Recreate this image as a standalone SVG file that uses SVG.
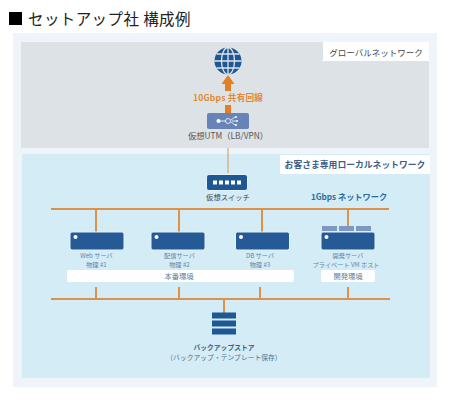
<svg xmlns="http://www.w3.org/2000/svg" width="450" height="400" viewBox="0 0 450 400">
<style>
text{font-family:"Noto Sans CJK JP","Noto Sans",sans-serif}
.m{text-anchor:middle}
.srv{fill:#255a97;stroke:#e4f2f9;stroke-width:1}
.dot{fill:#fff}
.sub{font-size:6.200px;fill:#6485a6}
.env{font-size:7.300px;fill:#5f7f9e}
.lab{font-size:8.300px;fill:#555}
.o{stroke:#dc9248;stroke-width:2;fill:none}
.w{fill:#fff}
.vm{fill:#7d99c2}
.gl{fill:none;stroke:#e0e6ea;stroke-width:1.3}
</style>
<rect width="450" height="400" fill="#fff"/>
<rect x="13" y="33" width="424" height="354" fill="#eff4fa"/>
<rect x="21" y="42" width="408" height="106" fill="#dde2e6"/>
<rect x="22" y="154" width="408" height="224" fill="#d3ecf6"/>
<rect x="9" y="12" width="13" height="13" fill="#000"/>
<text x="28" y="25" font-size="15.500" fill="#222" letter-spacing=".4">セットアップ社 構成例</text>

<g id="label-global"><rect x="323" y="42" width="106" height="19" class="w"/><text x="376" y="55.500" class="m" font-size="8.500" fill="#444">グローバルネットワーク</text></g>
<g id="label-local"><rect x="280" y="155" width="150" height="19" class="w"/><text x="355" y="168" class="m" font-size="8.800" font-weight="700" fill="#3b5f87">お客さま専用ローカルネットワーク</text></g>

<g id="connectors">
<path d="M228 148V173" stroke="#dc9248" stroke-width="1" fill="none"/>
<path d="M228 75L234.500 84H231V91H225V84H221.500Z" fill="#e37f22"/>
<rect x="225" y="105" width="6" height="8" fill="#e37f22"/>
<path class="o" d="M51 209H389"/>
<path class="o" d="M96 209V232M179 209V232M262 209V232M348 209V226"/>
<path class="o" d="M51 299H390"/>
<path class="o" d="M96 287V299M179 287V299M260 287V299M348 287V299M224 299V313"/>
</g>

<g id="globe">
<circle cx="228" cy="61" r="13.500" fill="#1f5694"/>
<ellipse cx="228" cy="61" rx="6.500" ry="13.500" class="gl"/>
<path class="gl" d="M228 47.500V74.500M214.500 61H241.500M216.500 54H239.500M216.500 68H239.500"/>
</g>
<text x="228" y="101" class="m" font-size="8.600" font-weight="700" fill="#e08a35" letter-spacing=".2">10Gbps 共有回線</text>

<g id="utm">
<rect x="207" y="113" width="42" height="16" rx="2" fill="#6783b8"/>
<path d="M218 121H226M231 120L235 117M231 122L235 125M232 121H236" stroke="#fff" stroke-width=".8" fill="none"/>
<circle cx="218.500" cy="121" r="2" fill="#fff"/><circle cx="228" cy="121" r="2.500" fill="none" stroke="#fff" stroke-width=".8"/>
<circle cx="236" cy="117" r="1" fill="#fff"/><circle cx="237" cy="121" r="1" fill="#fff"/><circle cx="236" cy="125" r="1" fill="#fff"/>
<text x="228" y="139" class="m lab">仮想UTM（LB/VPN）</text>
</g>

<g id="switch">
<rect x="206.500" y="174.500" width="41" height="16" rx="2.500" fill="#1f5694" stroke="#e4f2f9"/>
<g class="dot"><rect x="213" y="180.500" width="4" height="4"/><rect x="219" y="180.500" width="4" height="4"/><rect x="225" y="180.500" width="4" height="4"/><rect x="231" y="180.500" width="4" height="4"/><rect x="237" y="180.500" width="4" height="4"/></g>
<text x="228" y="199.500" class="m" font-size="7.300" fill="#444">仮想スイッチ</text>
</g>
<text x="349" y="200" class="m" font-size="8.200" font-weight="700" fill="#2f6a99">1Gbps ネットワーク</text>

<g id="web">
<rect x="70" y="232" width="54" height="18" rx="2" class="srv"/><circle cx="75.500" cy="237" r="2" class="dot"/>
<text x="96.500" y="258" class="m sub">Web サーバ</text><text x="96.500" y="267" class="m sub">物理 #1</text>
</g>
<g id="haishin">
<rect x="151" y="232" width="54" height="18" rx="2" class="srv"/><circle cx="156.500" cy="237" r="2" class="dot"/>
<text x="179.500" y="258" class="m sub">配信サーバ</text><text x="179.500" y="267" class="m sub">物理 #2</text>
</g>
<g id="db">
<rect x="235.500" y="232" width="54" height="18" rx="2" class="srv"/><circle cx="241" cy="237" r="2" class="dot"/>
<text x="260" y="258" class="m sub">DB サーバ</text><text x="260" y="267" class="m sub">物理 #3</text>
</g>
<g id="dev">
<rect x="322" y="226" width="15" height="5" class="vm"/><rect x="339" y="226" width="15" height="5" class="vm"/><rect x="356" y="226" width="15" height="5" class="vm"/>
<rect x="321" y="232" width="54" height="18" rx="2" class="srv"/><circle cx="326.500" cy="237" r="2" class="dot"/>
<text x="348" y="258" class="m sub">開発サーバ</text><text x="346" y="267" class="m sub">プライベート VM ホスト</text>
</g>
<g id="env-prod"><rect x="67" y="270" width="227" height="12" rx="2" class="w"/><text x="179" y="278.700" class="m env">本番環境</text></g>
<g id="env-dev"><rect x="321" y="270" width="54" height="12" rx="2" class="w"/><text x="348" y="278.700" class="m env">開発環境</text></g>

<g id="storage">
<rect x="212" y="312.500" width="24" height="6" fill="#1f5694"/><rect x="212" y="320.500" width="24" height="6" fill="#1f5694"/><rect x="212" y="328.500" width="24" height="6" fill="#1f5694"/>
<text x="224" y="349.500" class="m" font-size="6.800" font-weight="700" fill="#3b5f87">バックアップストア</text>
<text x="224" y="360" class="m" font-size="6.800" fill="#4f6f92">（バックアップ・テンプレート保存）</text>
</g>
</svg>
